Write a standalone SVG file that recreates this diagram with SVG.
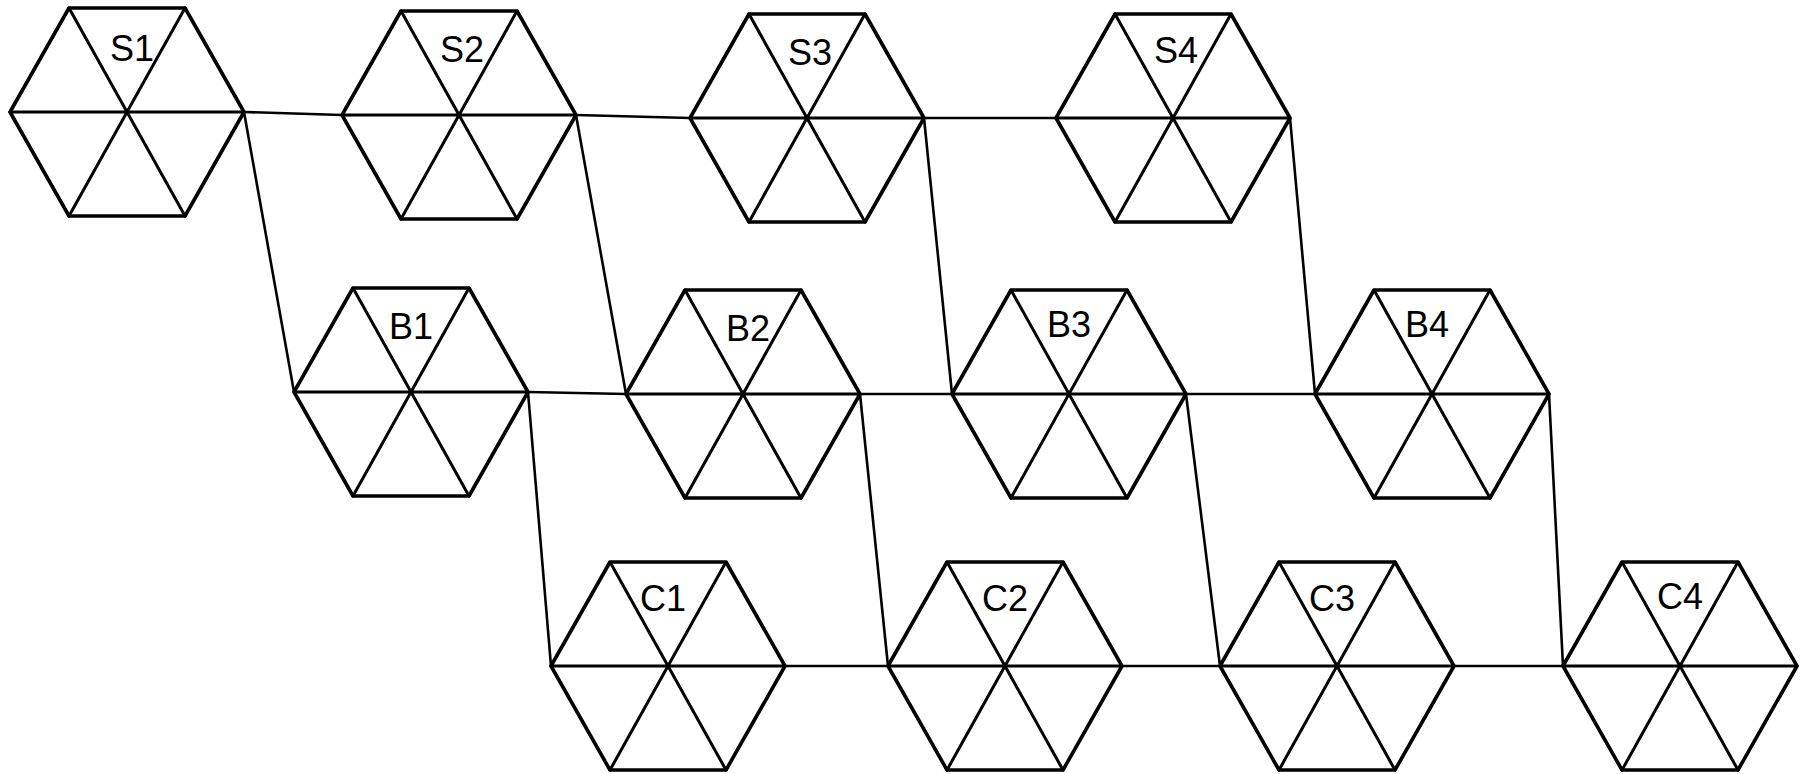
<svg xmlns="http://www.w3.org/2000/svg" xmlns:xlink="http://www.w3.org/1999/xlink" width="1807" height="774" viewBox="0 0 1807 774">
<style>
.hex{fill:none;stroke:#000;stroke-width:3.6;stroke-linejoin:round;stroke-linecap:round}
.spoke{fill:none;stroke:#000;stroke-width:3;stroke-linecap:round}
.con{fill:none;stroke:#000;stroke-width:2.6;stroke-linecap:round}
.lbl{font-family:"Liberation Sans","DejaVu Sans",sans-serif;font-size:36px;fill:#000;text-anchor:middle;dominant-baseline:central}
</style>
<defs>
<g id="hexshape">
<path class="hex" d="M-117,0 L-58,-104 L58,-104 L117,0 L58,104 L-58,104 Z"/>
<path class="spoke" d="M-58,-104 L58,104 M58,-104 L-58,104 M-117,0 L117,0"/>
</g>
</defs>
<rect width="1807" height="774" fill="#fff"/>
<g id="connectors">
<path class="con" d="M244,112 L342,115 M576,115 L690,118 M924,118 L1056,118"/>
<path class="con" d="M528,392 L626,394 M860,394 L952,394 M1186,394 L1315,394"/>
<path class="con" d="M785,666 L888,666 M1122,666 L1220,666 M1454,666 L1563,666"/>
<path class="con" d="M244,112 L294,392 M576,115 L626,394 M924,118 L952,394 M1290,118 L1315,394"/>
<path class="con" d="M528,392 L551,666 M860,394 L888,666 M1186,394 L1220,666 M1549,394 L1563,666"/>
</g>
<g id="S1" transform="translate(127,112)"><use xlink:href="#hexshape"/><text class="lbl" x="5" y="-64">S1</text></g>
<g id="S2" transform="translate(459,115)"><use xlink:href="#hexshape"/><text class="lbl" x="3" y="-66">S2</text></g>
<g id="S3" transform="translate(807,118)"><use xlink:href="#hexshape"/><text class="lbl" x="3" y="-66">S3</text></g>
<g id="S4" transform="translate(1173,118)"><use xlink:href="#hexshape"/><text class="lbl" x="3" y="-68">S4</text></g>
<g id="B1" transform="translate(411,392)"><use xlink:href="#hexshape"/><text class="lbl" x="0" y="-66">B1</text></g>
<g id="B2" transform="translate(743,394)"><use xlink:href="#hexshape"/><text class="lbl" x="5" y="-66">B2</text></g>
<g id="B3" transform="translate(1069,394)"><use xlink:href="#hexshape"/><text class="lbl" x="0" y="-70">B3</text></g>
<g id="B4" transform="translate(1432,394)"><use xlink:href="#hexshape"/><text class="lbl" x="-5" y="-70">B4</text></g>
<g id="C1" transform="translate(668,666)"><use xlink:href="#hexshape"/><text class="lbl" x="-5" y="-68">C1</text></g>
<g id="C2" transform="translate(1005,666)"><use xlink:href="#hexshape"/><text class="lbl" x="0" y="-68">C2</text></g>
<g id="C3" transform="translate(1337,666)"><use xlink:href="#hexshape"/><text class="lbl" x="-5" y="-68">C3</text></g>
<g id="C4" transform="translate(1680,666)"><use xlink:href="#hexshape"/><text class="lbl" x="0" y="-70">C4</text></g>
</svg>
